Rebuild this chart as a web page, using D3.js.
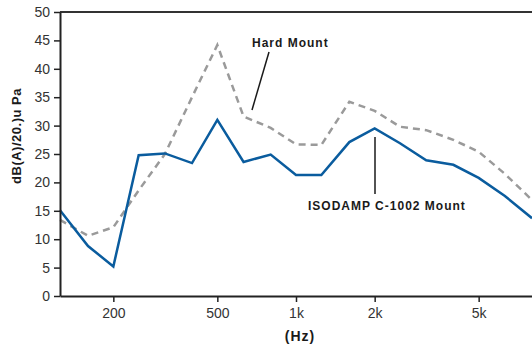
<!DOCTYPE html>
<html>
<head>
<meta charset="utf-8">
<script src="https://d3js.org/d3.v7.min.js"></script>
<style>
  body { margin: 0; background: #fff; }
  svg { display: block; font-family: "Liberation Sans", Arial, sans-serif; }
  .tick text { font-size: 14px; fill: #333; }
  .lbl { font-weight: bold; fill: #1a1a1a; }
</style>
</head>
<body>
<svg id="chart" width="532" height="344"></svg>
<script>
// third-octave band centres (Hz)
const freqs = [125, 160, 200, 250, 315, 400, 500, 630, 800, 1000, 1250, 1600, 2000, 2500, 3150, 4000, 5000, 6300, 8000];
const isodamp = [15.1, 8.8, 5.2, 24.8, 25.1, 23.4, 31.0, 23.6, 24.9, 21.3, 21.3, 27.1, 29.5, 26.9, 23.9, 23.1, 20.8, 17.6, 13.7];
const hardMount = [13.4, 10.6, 12.1, 18.6, 25.0, 35.0, 44.2, 31.6, 29.6, 26.7, 26.6, 34.2, 32.6, 29.8, 29.2, 27.5, 25.4, 21.5, 16.9];
const xTicks = [200, 500, 1000, 2000, 5000];
const xTickLabels = ["200", "500", "1k", "2k", "5k"];
const yTicks = [0, 5, 10, 15, 20, 25, 30, 35, 40, 45, 50];

const svg = d3.select("#chart");
const mLeft = 60, mRight = 532, mTop = 12, mBottom = 296;

const x = d3.scaleLog().domain([125, 8000]).range([mLeft, mRight]);
const y = d3.scaleLinear().domain([0, 50]).range([mBottom, mTop]);

// top frame line
svg.append("line")
  .attr("x1", mLeft).attr("x2", mRight)
  .attr("y1", mTop).attr("y2", mTop)
  .attr("stroke", "#333").attr("stroke-width", 2);

const line = d3.line()
  .x((d, i) => x(freqs[i]))
  .y(d => y(d));

svg.append("path")
  .datum(hardMount)
  .attr("d", line)
  .attr("fill", "none")
  .attr("stroke", "#9a9a9a")
  .attr("stroke-width", 2.5)
  .attr("stroke-dasharray", "7,5");

svg.append("path")
  .datum(isodamp)
  .attr("d", line)
  .attr("fill", "none")
  .attr("stroke", "#0a5c9e")
  .attr("stroke-width", 2.5);

// axes
const yAxis = svg.append("g")
  .attr("transform", `translate(${mLeft},0)`)
  .call(d3.axisLeft(y).tickValues(yTicks).tickSize(6).tickSizeOuter(0).tickPadding(4));

const xAxis = svg.append("g")
  .attr("transform", `translate(0,${mBottom})`)
  .call(d3.axisBottom(x).tickValues(xTicks).tickSize(6).tickSizeOuter(0).tickPadding(6)
    .tickFormat((d, i) => xTickLabels[i]));

[yAxis, xAxis].forEach(g => {
  g.select(".domain").attr("stroke", "#222").attr("stroke-width", 2);
  g.selectAll(".tick line").attr("stroke", "#222").attr("stroke-width", 1.5);
  g.selectAll(".tick text").style("font-size", "14px").attr("fill", "#333");
});

// axis titles
svg.append("text")
  .attr("class", "lbl")
  .attr("transform", "translate(21,136) rotate(-90)")
  .attr("text-anchor", "middle")
  .style("font-size", "13px")
  .style("letter-spacing", "0.5px")
  .text("dB(A)/20.)u Pa");

svg.append("text")
  .attr("class", "lbl")
  .attr("x", 300).attr("y", 341)
  .attr("text-anchor", "middle")
  .style("font-size", "14px")
  .style("letter-spacing", "1px")
  .text("(Hz)");

// annotations
svg.append("text")
  .attr("class", "lbl")
  .attr("x", 252).attr("y", 47)
  .style("font-size", "12px")
  .style("letter-spacing", "1px")
  .text("Hard Mount");
svg.append("line")
  .attr("x1", 269).attr("y1", 52)
  .attr("x2", 252).attr("y2", 110)
  .attr("stroke", "#1a1a1a").attr("stroke-width", 1.5);

svg.append("text")
  .attr("class", "lbl")
  .attr("x", 308).attr("y", 210)
  .style("font-size", "12px")
  .style("letter-spacing", "1px")
  .text("ISODAMP C-1002 Mount");
svg.append("line")
  .attr("x1", 375).attr("y1", 137)
  .attr("x2", 375).attr("y2", 194)
  .attr("stroke", "#1a1a1a").attr("stroke-width", 1.5);
</script>
</body>
</html>
